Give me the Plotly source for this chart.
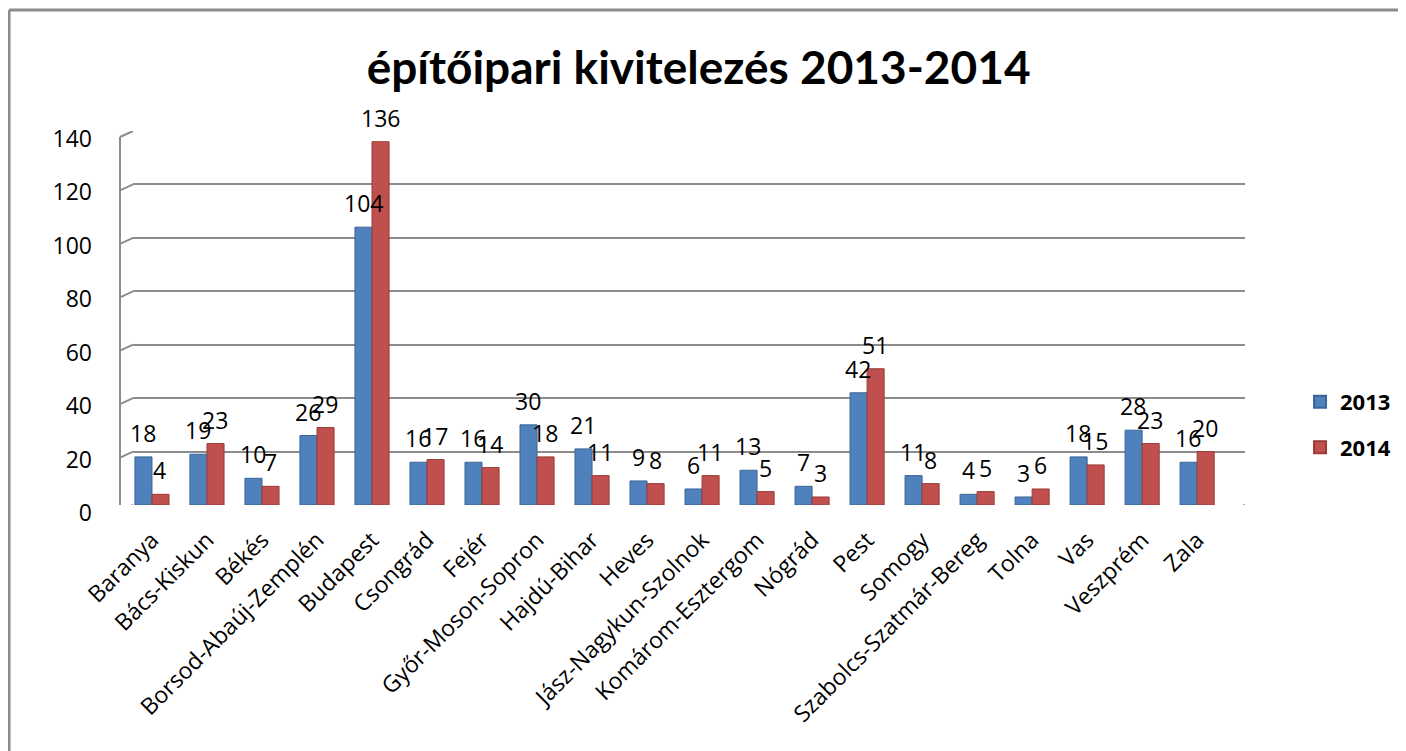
import plotly.graph_objects as go

# megyék (counties) and counts per year
megyek = ['Baranya', 'Bács-Kiskun', 'Békés', 'Borsod-Abaúj-Zemplén', 'Budapest',
          'Csongrád', 'Fejér', 'Győr-Moson-Sopron', 'Hajdú-Bihar', 'Heves',
          'Jász-Nagykun-Szolnok', 'Komárom-Esztergom', 'Nógrád', 'Pest', 'Somogy',
          'Szabolcs-Szatmár-Bereg', 'Tolna', 'Vas', 'Veszprém', 'Zala']
ev_2013 = [18, 19, 10, 26, 104, 16, 16, 30, 21, 9, 6, 13, 7, 42, 11, 4, 3, 18, 28, 16]
ev_2014 = [4, 23, 7, 29, 136, 17, 14, 18, 11, 8, 11, 5, 3, 51, 8, 5, 6, 15, 23, 20]
y_ticks = [0, 20, 40, 60, 80, 100, 120, 140]

blue = '#4F81BD'
red = '#C0504D'
grey = '#8C8C8C'
font = 'Open Sans, sans-serif'
title_font = 'Lato, sans-serif'

fig = go.Figure()
fig.add_trace(go.Bar(x=megyek, y=ev_2013, name='2013', legendgroup='a',
                     marker=dict(color=blue, line=dict(color='#3B6597', width=1))))
fig.add_trace(go.Bar(x=megyek, y=ev_2014, name='2014', legendgroup='b',
                     marker=dict(color=red, line=dict(color='#9B3B38', width=1))))

# data labels sit a bit above the bar tops, like the excel 3d chart
for m, a, b in zip(megyek, ev_2013, ev_2014):
    fig.add_annotation(x=m, y=a, text=str(a), showarrow=False, xshift=-9, yshift=24,
                       font=dict(size=23, color='black', family=font))
    fig.add_annotation(x=m, y=b, text=str(b), showarrow=False, xshift=8, yshift=24,
                       font=dict(size=23, color='black', family=font))

# fake 3d side wall: short diagonals from each gridline to the front edge
for t in y_ticks:
    fig.add_shape(type='line', xref='paper', yref='y', xsizemode='pixel', xanchor=0,
                  ysizemode='pixel', yanchor=t, x0=-13, x1=0, y0=-6, y1=0,
                  line=dict(color=grey, width=2))
fig.add_shape(type='line', xref='paper', yref='y', xsizemode='pixel', xanchor=0,
              ysizemode='pixel', yanchor=0, x0=-13, x1=-13, y0=-6, y1=368,
              line=dict(color=grey, width=2))
# floor front edge and right corner
fig.add_shape(type='line', xref='paper', yref='y', xsizemode='pixel', xanchor=0,
              ysizemode='pixel', yanchor=0, x0=-13, x1=1095, y0=-6, y1=-6,
              line=dict(color=grey, width=2))
fig.add_shape(type='line', xref='paper', yref='y', xsizemode='pixel', xanchor=1,
              ysizemode='pixel', yanchor=0, x0=0, x1=-17, y0=0, y1=-6,
              line=dict(color=grey, width=2))

# outer chart border (top and left edges visible)
fig.add_shape(type='line', xref='paper', yref='paper', x0=-0.1115, x1=1.2, y0=1.3235, y1=1.3235,
              line=dict(color=grey, width=3))
fig.add_shape(type='line', xref='paper', yref='paper', x0=-0.1115, x1=-0.1115, y0=-0.7, y1=1.3235,
              line=dict(color=grey, width=3))

# page body adds 8px around the div, so the figure is a bit smaller than the window
fig.update_layout(
    width=1398, height=743,
    paper_bgcolor='white', plot_bgcolor='white',
    margin=dict(l=125, r=161, t=123, b=246, autoexpand=False),
    barmode='group', bargap=0.38, bargroupgap=0.0,
    font=dict(family=font, size=23, color='black'),
    title=dict(text='<b>építőipari kivitelezés 2013-2014</b>', x=0.494, xanchor='center',
               y=0.92, yanchor='middle', font=dict(size=46, family=title_font, color='black')),
    legend=dict(x=1.0495, y=0.214, xanchor='left', yanchor='middle',
                font=dict(size=22, family=font, color='black', weight='bold'),
                itemsizing='constant', tracegroupgap=14, itemwidth=30),
    showlegend=True,
)
fig.update_xaxes(tickangle=-45, range=[-0.345, 19.87], showgrid=False, showline=False,
                 ticks='', ticklabelstandoff=16, tickfont=dict(size=23), automargin=False)
fig.update_yaxes(range=[0, 140], tickvals=y_ticks, showgrid=True, gridcolor=grey,
                 gridwidth=2, showline=False, ticks='', ticklabelstandoff=40,
                 ticklabelshift=8, zeroline=False, tickfont=dict(size=23),
                 automargin=False)

fig.write_html('out.html')
